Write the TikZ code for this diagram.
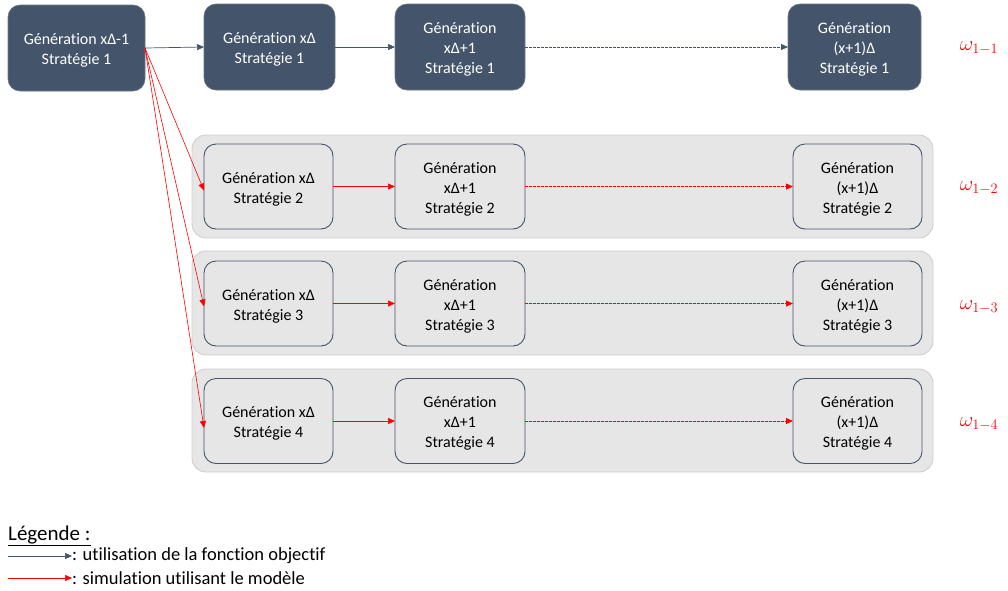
\documentclass[tikz,border=0pt]{standalone}
\usepackage{fontspec}
\setmainfont{Carlito}[Ligatures=NoCommon]
\usetikzlibrary{arrows.meta}
\definecolor{dk}{HTML}{44546A}
\definecolor{bandfill}{HTML}{E7E6E6}
\definecolor{bandline}{HTML}{D0CECE}
\definecolor{rd}{HTML}{FF0000}
\newcommand{\tstrut}{\rule{0pt}{16pt}}
\tikzset{
  darkbox/.style={draw=dk!80!white, line width=0.6pt, fill=dk, text=white, rounded corners=12pt, align=center, minimum height=86pt, outer sep=0pt, font=\fontsize{16}{20}\selectfont},
  lightbox/.style={draw=dk, line width=0.9pt, fill=bandfill, text=black, rounded corners=12pt, align=center, minimum height=85pt, minimum width=129pt, outer sep=0pt, font=\fontsize{16}{20}\selectfont},
  band/.style={draw=bandline, line width=0.9pt, fill=bandfill, rounded corners=14pt, minimum width=741pt, outer sep=0pt},
  tip/.style={-{Triangle[length=7pt,width=6pt]}},
  darrow/.style={tip, draw=dk, line width=0.7pt},
  rarrow/.style={tip, draw=rd, line width=0.6pt},
  dotline/.style={dash pattern=on 2.5pt off 1.5pt, line width=0.8pt},
  omega/.style={text=rd, font=\fontsize{20}{24}\selectfont},
}
\begin{document}
\begin{tikzpicture}[x=1pt,y=-1pt]
\useasboundingbox (0,0) rectangle (1008,590);
% bands
\node[band, minimum height=103pt] (band2) at (562.5,186.5) {};
\node[band, minimum height=104pt] (band3) at (562.5,303) {};
\node[band, minimum height=103pt] (band4) at (562.5,420.5) {};
% top row
\node[darkbox, minimum width=137pt] (a0) at (76.5,48) {\tstrut Génération xΔ-1\\Stratégie 1};
\node[darkbox, minimum width=131pt] (a1) at (269.5,47) {\tstrut Génération xΔ\\Stratégie 1};
\node[darkbox, minimum width=130pt] (a2) at (460,47) {\tstrut Génération\\xΔ+1\\Stratégie 1};
\node[darkbox, minimum width=133pt] (a3) at (854.5,47) {\tstrut Génération\\(x+1)Δ\\Stratégie 1};
% rows
\node[lightbox] (b1) at (268.5,186.5) {\tstrut Génération xΔ\\Stratégie 2};
\node[lightbox, minimum width=130pt] (b2) at (460,186.5) {\tstrut Génération\\xΔ+1\\Stratégie 2};
\node[lightbox] (b3) at (857.5,186.5) {\tstrut Génération\\(x+1)Δ\\Stratégie 2};
\node[lightbox] (c1) at (268.5,303.5) {\tstrut Génération xΔ\\Stratégie 3};
\node[lightbox, minimum width=130pt] (c2) at (460,303.5) {\tstrut Génération\\xΔ+1\\Stratégie 3};
\node[lightbox] (c3) at (857.5,303.5) {\tstrut Génération\\(x+1)Δ\\Stratégie 3};
\node[lightbox] (d1) at (268.5,421) {\tstrut Génération xΔ\\Stratégie 4};
\node[lightbox, minimum width=130pt] (d2) at (460,421) {\tstrut Génération\\xΔ+1\\Stratégie 4};
\node[lightbox] (d3) at (857.5,421) {\tstrut Génération\\(x+1)Δ\\Stratégie 4};
% top arrows
\draw[darrow] (a0.east) -- (a1.west);
\draw[darrow] (a1.east) -- (a2.west);
\draw[darrow, dotline] (a2.east) -- (a3.west);
% red fan
\draw[rarrow] (a0.east) -- ([yshift=-4pt]b1.west);
\draw[rarrow] (a0.east) -- ([yshift=-3pt]c1.west);
\draw[rarrow] (a0.east) -- ([yshift=-7pt]d1.west);
% red rows
\draw[rarrow] (b1.east) -- (b2.west);
\draw[rarrow, dotline] (b2.east) -- (b3.west);
\draw[rarrow] (c1.east) -- (c2.west);
\draw[rarrow, dotline] (c2.east) -- (c3.west);
\draw[rarrow] (d1.east) -- (d2.west);
\draw[rarrow, dotline] (d2.east) -- (d3.west);
% omegas
\node[omega] (w1) at (979,48) {$\omega_{1-1}$};
\node[omega] (w2) at (979,188) {$\omega_{1-2}$};
\node[omega] (w3) at (979,307) {$\omega_{1-3}$};
\node[omega] (w4) at (979,424) {$\omega_{1-4}$};
% legend
\node[anchor=base west, inner sep=0pt, font=\fontsize{21}{24}\selectfont] (leg) at (8,540) {\underline{Légende :}};
\coordinate (l1s) at (8,556);
\coordinate (l1e) at (72,556);
\coordinate (l2s) at (8,578);
\coordinate (l2e) at (72,578);
\draw[darrow] (l1s) -- (l1e);
\draw[rarrow] (l2s) -- (l2e);
\node[anchor=west, inner sep=0pt, font=\fontsize{18.5}{20}\selectfont] (t1) at (l1e) {: utilisation de la fonction objectif};
\node[anchor=west, inner sep=0pt, font=\fontsize{18.5}{20}\selectfont] (t2) at (l2e) {: simulation utilisant le modèle};
\end{tikzpicture}
\end{document}
